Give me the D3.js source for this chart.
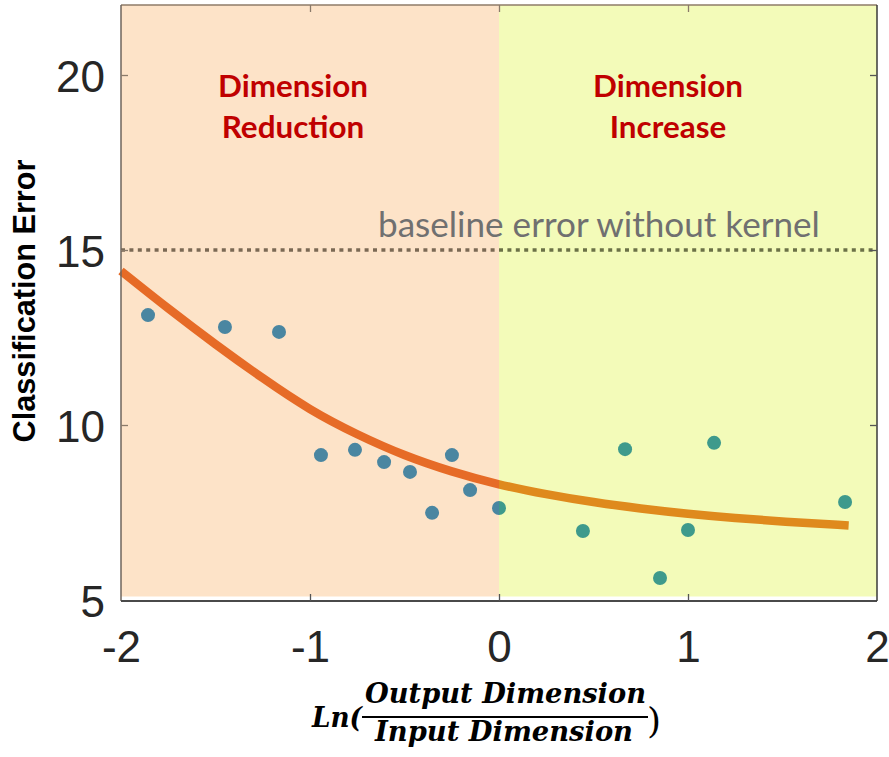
<!DOCTYPE html>
<html>
<head>
<meta charset="utf-8">
<script src="https://cdn.jsdelivr.net/npm/d3@7"></script>
<style>
  html, body { margin: 0; padding: 0; background: #ffffff; }
  svg { display: block; }
</style>
</head>
<body>
<svg id="chart" width="889" height="757"></svg>
<script>
// Measured classification error for each log dimension ratio
const logRatio = [-1.857, -1.45, -1.164, -0.942, -0.762, -0.608, -0.471, -0.354, -0.249, -0.153, 0.0,
                  0.444, 0.667, 0.852, 1.0, 1.138, 1.831];
const classError = [13.14, 12.8, 12.66, 9.14, 9.29, 8.94, 8.66, 7.49, 9.14, 8.14, 7.63,
                     6.97, 9.31, 5.63, 7.0, 9.49, 7.8];

// Fitted trend curve
const trendX = [-2, -1.75, -1.5, -1.25, -1, -0.75, -0.5, -0.25, 0, 0.25, 0.5, 0.75, 1, 1.25, 1.5, 1.85];
const trendY = [14.4, 13.32, 12.3, 11.33, 10.42, 9.72, 9.12, 8.66, 8.29, 8.02, 7.79, 7.61, 7.46, 7.34, 7.24, 7.13];

const baselineError = 15;
const baselineLabel = "baseline error without kernel";

const xTicks = [-2, -1, 0, 1, 2];
const yTicks = [5, 10, 15, 20];
const xDomain = [-2, 2];
const yDomain = [5, 22];

// Shaded regimes: left = reduction, right = increase
const regimeNames = [["Dimension", "Reduction"], ["Dimension", "Increase"]];
const regimeBounds = [[-2, 0], [0, 2]];

const svg = d3.select("#chart");
const plotLeft = 121, plotRight = 877, plotTop = 5, plotBottom = 600;

const x = d3.scaleLinear().domain(xDomain).range([plotLeft, plotRight]);
const y = d3.scaleLinear().domain(yDomain).range([plotBottom, plotTop]);

const regimeFill = ["#FDE3C8", "#F3FBB9"];
const pointColor = ["#4A86A1", "#3E9A8C"];
const curveColor = ["#E66B27", "#DF8A1D"];
const dotColor = ["#7B6954", "#6B7147"];

const defs = svg.append("defs");
regimeBounds.forEach((b, i) => {
  defs.append("clipPath").attr("id", "clip" + i)
    .append("rect")
    .attr("x", i === 0 ? 0 : x(b[0]))
    .attr("y", 0)
    .attr("width", i === 0 ? x(b[1]) : 889 - x(b[0]))
    .attr("height", 757);
});

// background bands
svg.selectAll("rect.band")
  .data(regimeBounds)
  .join("rect")
  .attr("class", "band")
  .attr("x", d => x(d[0]))
  .attr("width", d => x(d[1]) - x(d[0]))
  .attr("y", y(yDomain[1]))
  .attr("height", y(5.1) - y(yDomain[1]))
  .attr("fill", (d, i) => regimeFill[i]);

// marks drawn once per band, each clipped to its half
const line = d3.line().x((d, i) => x(trendX[i])).y((d, i) => y(trendY[i])).curve(d3.curveBasis);

regimeBounds.forEach((b, k) => {
  const g = svg.append("g").attr("clip-path", `url(#clip${k})`);

  g.append("line")
    .attr("x1", x(xDomain[0])).attr("x2", x(xDomain[1]))
    .attr("y1", y(baselineError)).attr("y2", y(baselineError))
    .attr("stroke", dotColor[k])
    .attr("stroke-width", 3.6)
    .attr("stroke-dasharray", "4,4.4");

  g.append("path")
    .datum(trendY)
    .attr("d", line)
    .attr("fill", "none")
    .attr("stroke", curveColor[k])
    .attr("stroke-width", 8.5);

  g.selectAll("circle")
    .data(classError)
    .join("circle")
    .attr("cx", (d, i) => x(logRatio[i]))
    .attr("cy", d => y(d))
    .attr("r", 7)
    .attr("fill", pointColor[k]);
});

// frame
svg.append("line").attr("x1", plotLeft).attr("x2", plotRight).attr("y1", plotTop).attr("y2", plotTop)
  .attr("stroke", "#8E7B68").attr("stroke-width", 1.5);
svg.append("line").attr("x1", plotLeft).attr("x2", plotLeft).attr("y1", plotTop).attr("y2", plotBottom + 1)
  .attr("stroke", "#6E655C").attr("stroke-width", 1.5);
svg.append("line").attr("x1", plotLeft).attr("x2", plotRight).attr("y1", plotBottom + 1).attr("y2", plotBottom + 1)
  .attr("stroke", "#4A4A4A").attr("stroke-width", 1.8);
svg.append("line").attr("x1", plotRight).attr("x2", plotRight).attr("y1", plotTop).attr("y2", plotBottom + 1)
  .attr("stroke", "#3A3A3A").attr("stroke-width", 1.5);

// axes (tick labels + inner ticks)
const fontAxis = "'Liberation Sans', Arial, sans-serif";
const xAxis = d3.axisBottom(x).tickValues(xTicks).tickSize(-7).tickPadding(25).tickFormat(d3.format("d"));
const gx = svg.append("g").attr("transform", `translate(0,${plotBottom + 1})`).call(xAxis);
gx.select(".domain").remove();
gx.selectAll(".tick line").attr("stroke", "#555").attr("stroke-width", 1.3)
  .filter(d => d === -2 || d === 2).remove();
gx.selectAll(".tick text")
  .text(d => d < 0 ? "-" + Math.abs(d) : d)
  .attr("font-family", fontAxis).attr("font-size", 44).attr("fill", "#262626")
  .attr("dy", 0).attr("y", 61);

const yAxis = d3.axisLeft(y).tickValues(yTicks).tickSize(-7).tickPadding(16);
const gy = svg.append("g").attr("transform", `translate(${plotLeft},0)`).call(yAxis);
gy.select(".domain").remove();
gy.selectAll(".tick line").attr("stroke", "#8A7A6A").attr("stroke-width", 1.3)
  .filter(d => d === 5).remove();
gy.selectAll(".tick text")
  .attr("font-family", fontAxis).attr("font-size", 44).attr("fill", "#262626")
  .attr("x", -16).attr("dy", "0.38em");

// mirrored ticks on right and top
const gr = svg.append("g").attr("transform", `translate(${plotRight},0)`).call(d3.axisRight(y).tickValues([10, 15, 20]).tickSize(-7).tickFormat(""));
gr.select(".domain").remove();
gr.selectAll(".tick line").attr("stroke", "#555").attr("stroke-width", 1.3);
const gt = svg.append("g").attr("transform", `translate(0,${plotTop})`).call(d3.axisTop(x).tickValues([-1, 0, 1]).tickSize(-7).tickFormat(""));
gt.select(".domain").remove();
gt.selectAll(".tick line").attr("stroke", "#8A7A6A").attr("stroke-width", 1.3);

function fitWidth(sel, target) {
  const w = sel.node().getComputedTextLength();
  sel.attr("font-size", parseFloat(sel.attr("font-size")) * target / w);
}

// y axis title
const yTitle = svg.append("text")
  .attr("transform", "translate(35,301) rotate(-90)")
  .attr("text-anchor", "middle")
  .attr("font-family", fontAxis).attr("font-weight", "bold")
  .attr("font-size", 30).attr("fill", "#000")
  .text("Classification Error");
fitWidth(yTitle, 283);

// regime titles
const fontHead = "Lato, 'Open Sans', sans-serif";
regimeNames.forEach((names, i) => {
  const cx = (x(regimeBounds[i][0]) + x(regimeBounds[i][1])) / 2 + (i === 0 ? -17 : -20);
  const t1 = svg.append("text").attr("x", cx).attr("y", 97)
    .attr("text-anchor", "middle").attr("font-family", fontHead).attr("font-weight", "bold")
    .attr("font-size", 29).attr("fill", "#C00000").text(names[0]);
  fitWidth(t1, 150);
  const fs = t1.attr("font-size");
  svg.append("text").attr("x", cx).attr("y", 138)
    .attr("text-anchor", "middle").attr("font-family", fontHead).attr("font-weight", "bold")
    .attr("font-size", fs).attr("fill", "#C00000").text(names[1]);
});

// baseline label
const bl = svg.append("text").attr("x", 378).attr("y", 237)
  .attr("font-family", fontHead).attr("font-size", 30).attr("fill", "#707070")
  .text(baselineLabel);
fitWidth(bl, 442);

// x axis title: Ln(Output Dimension / Input Dimension)
const fontMath = "'DejaVu Serif', serif";
const gxt = svg.append("g").attr("font-family", fontMath).attr("font-weight", "bold")
  .attr("font-style", "italic").attr("fill", "#000");
gxt.append("text").attr("x", 312).attr("y", 727).attr("font-size", 27)
  .attr("textLength", 50).attr("lengthAdjust", "spacingAndGlyphs").text("Ln(");
gxt.append("text").attr("x", 365).attr("y", 703).attr("font-size", 27)
  .attr("textLength", 281).attr("lengthAdjust", "spacingAndGlyphs").text("Output Dimension");
gxt.append("text").attr("x", 375).attr("y", 741).attr("font-size", 27)
  .attr("textLength", 258).attr("lengthAdjust", "spacingAndGlyphs").text("Input Dimension");
gxt.append("line").attr("x1", 362).attr("x2", 648).attr("y1", 717).attr("y2", 717)
  .attr("stroke", "#000").attr("stroke-width", 2.2);
gxt.append("text").attr("x", 647).attr("y", 733).attr("font-size", 36)
  .attr("font-style", "normal").attr("font-weight", "normal").text(")");
</script>
</body>
</html>
